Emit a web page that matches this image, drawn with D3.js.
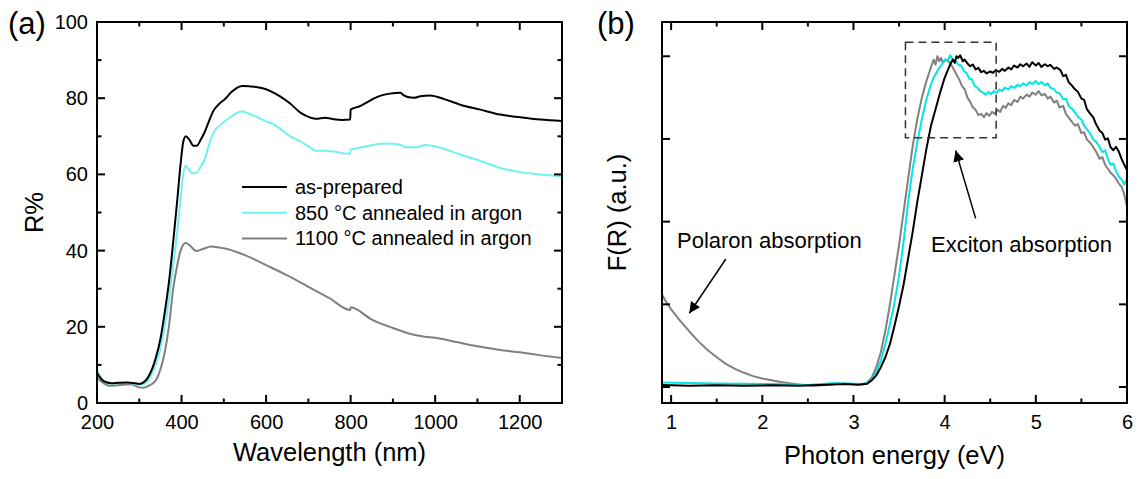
<!DOCTYPE html>
<html>
<head>
<meta charset="utf-8">
<script src="https://cdn.jsdelivr.net/npm/d3@7"></script>
<style>
  body { margin: 0; background: #fff; }
  svg text { font-family: "Liberation Sans", Arial, sans-serif; fill: #000; }
</style>
</head>
<body>
<div id="chart"></div>
<script>
// ---- panel (a) : reflectance vs wavelength ----
var seriesNamesA = ["as-prepared", "850 \u00B0C annealed in argon", "1100 \u00B0C annealed in argon"];
var asPrepared = [[200,7.9],[210,6.3],[220,5.5],[235,5.2],[250,5.3],[270,5.4],[290,5.2],[300,5.0],[310,5.4],[320,6.6],[330,8.8],[340,12.2],[350,16.8],[360,23.6],[370,31.5],[380,42],[390,53.4],[398,63],[404,68.5],[410,70.0],[418,69.2],[428,67.5],[436,67.5],[445,69],[455,71.2],[465,74],[475,76.6],[490,78.6],[503,79.8],[518,81.6],[532,82.8],[545,83.2],[562,83.1],[580,82.9],[598,82.4],[615,81.6],[633,80.5],[657,78.6],[681,76.2],[705,74.9],[718,74.6],[740,74.9],[760,74.5],[780,74.3],[799,74.4],[800,77.0],[822,77.9],[840,79.0],[858,80.1],[875,80.8],[893,81.2],[918,81.4],[925,80.8],[935,80.3],[950,80.1],[965,80.5],[988,80.7],[1023,79.7],[1059,78.3],[1107,77.0],[1154,75.7],[1201,75.0],[1249,74.4],[1300,74.0]];
var annealed850 = [[200,8.8],[210,6.5],[220,5.4],[235,5.1],[250,5.2],[270,5.3],[290,5.0],[300,4.8],[310,5.0],[320,5.8],[330,7.6],[340,10.5],[350,14.5],[360,20],[370,27],[380,36],[390,45],[398,54],[404,60],[409,62.3],[416,61.5],[425,60.3],[435,60.4],[445,62],[455,64],[465,67.8],[475,70.9],[490,72.8],[503,74],[518,75.2],[532,76.2],[545,76.5],[562,75.8],[580,75.0],[598,74.0],[615,73.3],[633,72.0],[657,70.0],[681,68.7],[705,67.0],[718,66.2],[740,66.2],[760,66.0],[780,65.6],[799,65.4],[800,66.5],[822,67.0],[846,67.6],[865,68.0],[882,68.1],[918,67.8],[930,67.1],[953,67.1],[977,67.7],[1012,67.0],[1059,65.2],[1107,63.5],[1154,61.7],[1201,60.6],[1249,60.0],[1300,59.5]];
var annealed1100 = [[200,6.6],[215,5.2],[230,4.5],[260,4.8],[280,4.9],[290,4.6],[300,4.1],[310,4.0],[320,4.4],[330,5.0],[340,6.1],[350,8.8],[360,13.2],[370,20],[380,29.8],[390,36.3],[400,40.7],[410,42.0],[420,41.3],[435,39.9],[450,40.4],[470,41.1],[500,40.6],[550,38.8],[600,36.2],[650,33.5],[700,30.5],[750,27.5],[799,24.4],[800,25.1],[850,21.9],[900,19.7],[950,17.9],[975,17.4],[1000,17.1],[1050,16.0],[1100,14.9],[1150,14.0],[1200,13.3],[1250,12.5],[1300,11.8]];
var xTicksA = [200, 400, 600, 800, 1000, 1200];
var xMinorA = [300, 500, 700, 900, 1100];
var yTicksA = [0, 20, 40, 60, 80, 100];
var yMinorA = [10, 30, 50, 70, 90];

// ---- panel (b) : Kubelka-Munk F(R) vs photon energy ----
var fr_asPrepared = [[0.9,0.006],[1.2,0.004],[1.5,0.005],[1.8,0.004],[2.1,0.005],[2.4,0.004],[2.7,0.007],[2.9,0.009],[3.05,0.007],[3.15,0.010],[3.2,0.02],[3.25,0.035],[3.3,0.06],[3.35,0.09],[3.4,0.13],[3.45,0.185],[3.5,0.245],[3.55,0.31],[3.6,0.39],[3.65,0.47],[3.7,0.56],[3.75,0.64],[3.8,0.72],[3.85,0.79],[3.9,0.84],[3.95,0.89],[4.0,0.935],[4.03,0.955],[4.06,0.975],[4.09,0.99],[4.11,0.98],[4.13,1.0],[4.15,0.995],[4.17,1.003],[4.2,0.985],[4.22,0.99],[4.25,0.978],[4.28,0.97],[4.31,0.975],[4.34,0.96],[4.37,0.965],[4.4,0.952],[4.43,0.956],[4.46,0.948],[4.5,0.954],[4.53,0.95],[4.56,0.958],[4.6,0.953],[4.63,0.962],[4.66,0.956],[4.7,0.966],[4.73,0.96],[4.76,0.972],[4.8,0.966],[4.83,0.976],[4.86,0.97],[4.9,0.978],[4.93,0.968],[4.96,0.982],[5.0,0.972],[5.03,0.98],[5.06,0.968],[5.1,0.976],[5.13,0.97],[5.16,0.974],[5.2,0.962],[5.23,0.966],[5.27,0.958],[5.3,0.94],[5.33,0.944],[5.36,0.922],[5.4,0.91],[5.43,0.9],[5.46,0.893],[5.5,0.872],[5.53,0.868],[5.56,0.84],[5.6,0.825],[5.63,0.815],[5.66,0.795],[5.7,0.775],[5.73,0.768],[5.76,0.748],[5.79,0.752],[5.82,0.725],[5.85,0.716],[5.88,0.726],[5.91,0.712],[5.94,0.69],[5.97,0.672],[6.0,0.656]];
var fr_850 = [[0.9,0.014],[1.2,0.012],[1.5,0.011],[1.8,0.01],[2.1,0.009],[2.5,0.006],[2.8,0.012],[3.0,0.01],[3.1,0.009],[3.15,0.012],[3.2,0.022],[3.25,0.045],[3.3,0.08],[3.35,0.13],[3.4,0.19],[3.45,0.255],[3.5,0.335],[3.55,0.44],[3.6,0.56],[3.65,0.66],[3.7,0.74],[3.75,0.81],[3.8,0.87],[3.85,0.915],[3.88,0.935],[3.91,0.95],[3.94,0.965],[3.97,0.975],[4.0,0.99],[4.03,0.985],[4.06,1.003],[4.09,0.99],[4.12,0.985],[4.15,0.975],[4.18,0.972],[4.21,0.955],[4.24,0.95],[4.27,0.932],[4.3,0.93],[4.33,0.91],[4.36,0.905],[4.39,0.895],[4.42,0.89],[4.45,0.884],[4.48,0.892],[4.51,0.886],[4.54,0.895],[4.57,0.889],[4.6,0.9],[4.63,0.895],[4.66,0.905],[4.7,0.9],[4.73,0.91],[4.76,0.904],[4.8,0.914],[4.83,0.909],[4.86,0.918],[4.9,0.912],[4.93,0.922],[4.96,0.916],[5.0,0.925],[5.03,0.916],[5.06,0.922],[5.1,0.912],[5.13,0.918],[5.16,0.905],[5.2,0.9],[5.23,0.89],[5.26,0.888],[5.3,0.87],[5.33,0.872],[5.36,0.85],[5.4,0.84],[5.43,0.83],[5.46,0.818],[5.5,0.808],[5.53,0.79],[5.56,0.78],[5.6,0.765],[5.63,0.748],[5.66,0.742],[5.7,0.726],[5.73,0.71],[5.76,0.716],[5.79,0.69],[5.82,0.672],[5.85,0.676],[5.88,0.652],[5.91,0.636],[5.94,0.628],[5.97,0.612],[6.0,0.63]];
var fr_1100 = [[0.9,0.28],[0.95,0.255],[1.0,0.235],[1.1,0.2],[1.2,0.168],[1.3,0.138],[1.4,0.112],[1.5,0.09],[1.6,0.07],[1.7,0.055],[1.8,0.043],[1.9,0.033],[2.0,0.026],[2.2,0.015],[2.4,0.008],[2.55,0.004],[2.7,0.006],[2.85,0.01],[3.0,0.009],[3.1,0.008],[3.15,0.014],[3.2,0.028],[3.25,0.06],[3.3,0.105],[3.35,0.17],[3.4,0.25],[3.45,0.34],[3.5,0.43],[3.55,0.53],[3.6,0.63],[3.65,0.73],[3.7,0.81],[3.75,0.875],[3.8,0.925],[3.83,0.95],[3.86,0.975],[3.88,0.99],[3.9,0.975],[3.92,1.0],[3.94,0.985],[3.96,0.995],[3.98,0.98],[4.01,0.99],[4.04,0.985],[4.07,0.975],[4.1,0.96],[4.13,0.945],[4.16,0.93],[4.19,0.91],[4.22,0.9],[4.25,0.875],[4.28,0.862],[4.31,0.845],[4.34,0.838],[4.37,0.822],[4.4,0.826],[4.43,0.816],[4.46,0.828],[4.49,0.82],[4.52,0.832],[4.55,0.826],[4.58,0.838],[4.61,0.832],[4.64,0.85],[4.67,0.844],[4.7,0.858],[4.73,0.852],[4.76,0.868],[4.8,0.862],[4.83,0.878],[4.86,0.872],[4.9,0.884],[4.93,0.878],[4.96,0.89],[5.0,0.884],[5.03,0.895],[5.06,0.882],[5.1,0.886],[5.13,0.872],[5.16,0.878],[5.2,0.86],[5.23,0.866],[5.26,0.845],[5.3,0.85],[5.33,0.825],[5.36,0.815],[5.4,0.8],[5.43,0.79],[5.46,0.795],[5.5,0.768],[5.53,0.77],[5.56,0.748],[5.6,0.738],[5.63,0.725],[5.66,0.712],[5.7,0.69],[5.73,0.695],[5.76,0.672],[5.79,0.66],[5.82,0.648],[5.85,0.64],[5.88,0.63],[5.91,0.615],[5.94,0.606],[5.97,0.582],[6.0,0.546]];
var xTicksB = [1, 2, 3, 4, 5, 6];
var xMinorB = [1.5, 2.5, 3.5, 4.5, 5.5];
var yTicksB = [0, 0.25, 0.5, 0.75, 1.0];

var colorsA = ["#000000", "#70f2f2", "#808080"];
var colorsB = ["#000000", "#00e6e6", "#808080"];

var W = 1141, H = 479;
var svg = d3.select("#chart").append("svg")
    .attr("width", W)
    .attr("height", H);

// tick labels from d3 axes, inward tick marks on all four sides, frame as a rect
function frameAxes(g, x, y, opt) {
    var w = x.range()[1] - x.range()[0],
        h = y.range()[0] - y.range()[1];
    var major = 8, minor = 4.5;
    var fmt = d3.format("d");

    var bx = g.append("g").attr("transform", "translate(0," + h + ")")
        .call(d3.axisBottom(x).tickValues(opt.xMajor).tickSize(0).tickPadding(12).tickFormat(fmt));
    bx.select(".domain").remove();
    bx.selectAll("text").style("font-size", "20px");
    if (opt.yLabels) {
        var ly = g.append("g")
            .call(d3.axisLeft(y).tickValues(opt.yMajor).tickSize(0).tickPadding(9).tickFormat(fmt));
        ly.select(".domain").remove();
        ly.selectAll("text").style("font-size", "20px");
    }

    var marks = [];
    opt.xMajor.forEach(function (v) { marks.push({ o: "x", v: v, s: major }); });
    (opt.xMinor || []).forEach(function (v) { marks.push({ o: "x", v: v, s: minor }); });
    opt.yMajor.forEach(function (v) { marks.push({ o: "y", v: v, s: major }); });
    (opt.yMinor || []).forEach(function (v) { marks.push({ o: "y", v: v, s: minor }); });

    var tg = g.append("g").attr("stroke", "#000").attr("stroke-width", 2);
    marks.forEach(function (m) {
        if (m.o === "x") {
            var px = x(m.v);
            tg.append("line").attr("x1", px).attr("x2", px).attr("y1", h).attr("y2", h - m.s);
            tg.append("line").attr("x1", px).attr("x2", px).attr("y1", 0).attr("y2", m.s);
        } else {
            var py = y(m.v);
            tg.append("line").attr("x1", 0).attr("x2", m.s).attr("y1", py).attr("y2", py);
            tg.append("line").attr("x1", w).attr("x2", w - m.s).attr("y1", py).attr("y2", py);
        }
    });

    g.append("rect")
        .attr("width", w)
        .attr("height", h)
        .attr("fill", "none")
        .attr("stroke", "#000")
        .attr("stroke-width", 2);
}

// ---------- panel (a) ----------
var mA = { left: 97, top: 22, width: 465, height: 381 };
var gA = svg.append("g").attr("transform", "translate(" + mA.left + "," + mA.top + ")");
var xA = d3.scaleLinear().domain([200, 1300]).range([0, mA.width]);
var yA = d3.scaleLinear().domain([0, 100]).range([mA.height, 0]);

var lineA = d3.line()
    .x(function (d) { return xA(d[0]); })
    .y(function (d) { return yA(d[1]); })
    .curve(d3.curveMonotoneX);

var dataA = [asPrepared, annealed850, annealed1100];
// draw grey first so black ends up on top
[2, 1, 0].forEach(function (i) {
    gA.append("path")
        .datum(dataA[i])
        .attr("fill", "none")
        .attr("stroke", colorsA[i])
        .attr("stroke-width", 2)
        .attr("stroke-linejoin", "round")
        .attr("d", lineA);
});

frameAxes(gA, xA, yA, {
    xMajor: xTicksA,
    xMinor: xMinorA,
    yMajor: yTicksA,
    yMinor: yMinorA,
    yLabels: true
});

// legend
var legend = gA.append("g").attr("transform", "translate(" + (242 - mA.left) + "," + (187 - mA.top) + ")");
seriesNamesA.forEach(function (name, i) {
    legend.append("line")
        .attr("x1", 0).attr("x2", 45)
        .attr("y1", i * 25.7).attr("y2", i * 25.7)
        .attr("stroke", colorsA[i])
        .attr("stroke-width", 2);
    legend.append("text")
        .attr("x", 53)
        .attr("y", i * 25.7 + 7)
        .style("font-size", "20px")
        .text(name);
});

svg.append("text")
    .attr("x", mA.left + mA.width / 2)
    .attr("y", 461)
    .attr("text-anchor", "middle")
    .style("font-size", "25.5px")
    .text("Wavelength (nm)");
svg.append("text")
    .attr("transform", "translate(43," + (mA.top + mA.height / 2) + ") rotate(-90)")
    .attr("text-anchor", "middle")
    .style("font-size", "25.5px")
    .text("R%");
svg.append("text")
    .attr("x", 8)
    .attr("y", 34)
    .style("font-size", "31px")
    .text("(a)");

// ---------- panel (b) ----------
var mB = { left: 662, top: 22, width: 465, height: 381 };
var gB = svg.append("g").attr("transform", "translate(" + mB.left + "," + mB.top + ")");
var xB = d3.scaleLinear().domain([0.9, 6]).range([0, mB.width]);
var yB = d3.scaleLinear().domain([-0.0483, 1.1036]).range([mB.height, 0]);

var lineB = d3.line()
    .x(function (d) { return xB(d[0]); })
    .y(function (d) { return yB(d[1]); });

var dataB = [fr_asPrepared, fr_850, fr_1100];
[2, 1, 0].forEach(function (i) {
    gB.append("path")
        .datum(dataB[i])
        .attr("fill", "none")
        .attr("stroke", colorsB[i])
        .attr("stroke-width", 2)
        .attr("stroke-linejoin", "round")
        .attr("d", lineB);
});

frameAxes(gB, xB, yB, {
    xMajor: xTicksB,
    xMinor: xMinorB,
    yMajor: yTicksB,
    yLabels: false
});

// dashed box around the exciton peak
gB.append("rect")
    .attr("x", xB(3.57))
    .attr("y", yB(1.042))
    .attr("width", xB(4.565) - xB(3.57))
    .attr("height", yB(0.754) - yB(1.042))
    .attr("fill", "none")
    .attr("stroke", "#333")
    .attr("stroke-width", 1.5)
    .attr("stroke-dasharray", "8,5");

svg.append("defs").append("marker")
    .attr("id", "arrow")
    .attr("viewBox", "0 0 10 10")
    .attr("refX", 10).attr("refY", 5)
    .attr("markerWidth", 11).attr("markerHeight", 11)
    .attr("markerUnits", "userSpaceOnUse")
    .attr("orient", "auto")
    .append("path")
    .attr("d", "M0,0 L10,5 L0,10 Z")
    .attr("fill", "#000");

// annotations
gB.append("text")
    .attr("x", 677 - mB.left)
    .attr("y", 248 - mB.top)
    .style("font-size", "22px")
    .text("Polaron absorption");
gB.append("line")
    .attr("x1", xB(1.6)).attr("y1", yB(0.387))
    .attr("x2", xB(1.2)).attr("y2", yB(0.223))
    .attr("stroke", "#000").attr("stroke-width", 1.5)
    .attr("marker-end", "url(#arrow)");

gB.append("text")
    .attr("x", 931 - mB.left)
    .attr("y", 252 - mB.top)
    .style("font-size", "22px")
    .text("Exciton absorption");
gB.append("line")
    .attr("x1", xB(4.34)).attr("y1", yB(0.51))
    .attr("x2", xB(4.12)).attr("y2", yB(0.715))
    .attr("stroke", "#000").attr("stroke-width", 1.5)
    .attr("marker-end", "url(#arrow)");

svg.append("text")
    .attr("x", mB.left + mB.width / 2)
    .attr("y", 464)
    .attr("text-anchor", "middle")
    .style("font-size", "25.5px")
    .text("Photon energy (eV)");
svg.append("text")
    .attr("transform", "translate(626," + (mB.top + mB.height / 2) + ") rotate(-90)")
    .attr("text-anchor", "middle")
    .style("font-size", "25.5px")
    .text("F(R) (a.u.)");
svg.append("text")
    .attr("x", 597)
    .attr("y", 34)
    .style("font-size", "31px")
    .text("(b)");
</script>
</body>
</html>
